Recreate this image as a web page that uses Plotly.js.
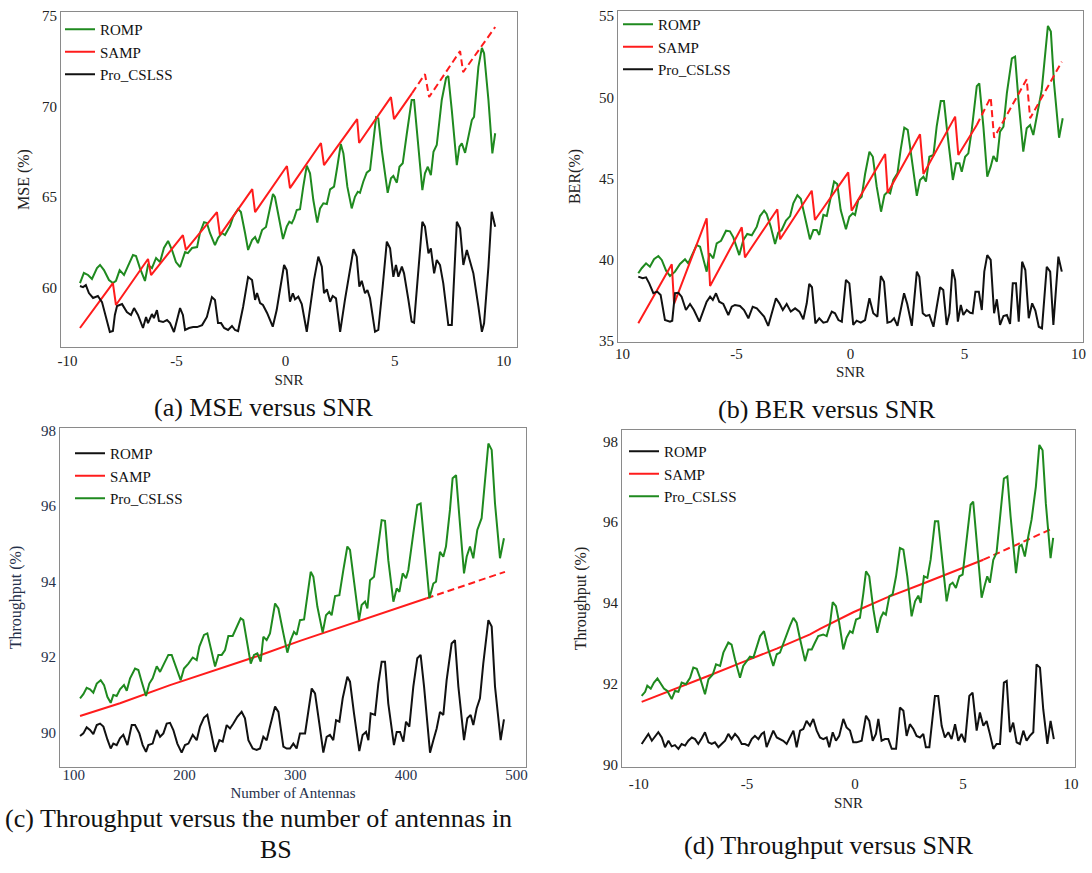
<!DOCTYPE html>
<html><head><meta charset="utf-8">
<script src="https://cdn.plot.ly/plotly-3.0.1.min.js"></script>
<style>html,body{margin:0;padding:0;background:#fff;}#chart{width:1092px;height:873px;}</style>
</head><body><div id="chart"></div>
<script>
// ---------- (a) MSE versus SNR ----------
const aRompX = [-9.43,-9.25,-9.06,-8.88,-8.65,-8.51,-8.33,-8.10,-7.92,-7.78,-7.61,-7.41,-7.23,-7.00,-6.86,-6.68,-6.45,-6.31,-6.13,-5.94,-5.76,-5.58,-5.39,-5.21,-5.03,-4.84,-4.61,-4.48,-4.29,-4.06,-3.93,-3.74,-3.61,-3.47,-3.24,-3.10,-2.92,-2.78,-2.55,-2.41,-2.18,-2.05,-1.86,-1.72,-1.54,-1.40,-1.27,-1.08,-0.90,-0.76,-0.58,-0.49,-0.30,-0.12,0.05,0.17,0.28,0.39,0.51,0.66,0.81,0.97,1.12,1.27,1.45,1.58,1.73,1.89,2.04,2.22,2.37,2.53,2.65,2.83,3.03,3.18,3.31,3.41,3.56,3.72,3.87,4.02,4.15,4.25,4.41,4.68,4.83,4.94,5.10,5.22,5.37,5.56,5.78,5.89,6.09,6.27,6.39,6.52,6.66,6.78,6.93,7.16,7.36,7.46,7.62,7.85,7.97,8.08,8.23,8.38,8.54,8.64,8.84,9.00,9.10,9.30,9.48,9.61];
const aRompY = [60.23,60.79,60.68,60.46,61.06,61.23,60.95,60.40,60.23,60.35,60.95,60.68,61.17,61.78,61.73,61.06,60.35,61.23,61.06,61.62,61.39,62.17,62.56,62.06,61.39,61.12,61.95,61.89,62.17,62.22,63.00,63.60,63.55,63.00,62.33,62.72,63.00,62.89,63.38,63.88,64.32,64.16,63.00,62.06,62.61,62.78,62.44,63.16,63.33,64.16,65.15,64.99,63.72,62.67,63.35,63.62,63.53,63.81,64.27,64.31,65.56,66.72,66.30,64.82,63.57,64.36,64.64,64.60,65.41,65.56,66.66,67.91,67.40,65.56,64.36,65.00,65.28,65.22,65.83,66.33,66.48,67.95,69.39,69.33,67.58,65.22,66.02,66.15,65.78,66.66,66.85,68.51,70.35,70.35,67.58,65.37,66.30,66.66,66.20,67.49,67.86,70.35,71.58,71.67,69.79,66.75,67.77,67.95,67.43,68.41,69.24,69.42,72.18,73.23,72.93,70.35,67.40,68.51];
const aSampX = [-9.43,-7.92,-7.78,-6.31,-6.17,-4.71,-4.57,-3.15,-3.01,-1.53,-1.40,0.06,0.20,1.62,1.76,3.28,3.37,4.83,4.97,5.80];
const aSampY = [57.75,60.23,59.02,61.56,60.67,62.88,62.06,64.15,62.88,65.42,64.15,66.70,65.48,67.97,66.75,69.29,67.97,70.51,69.29,70.73];
const aSampDashX = [5.80,6.39,6.58,8.00,8.14,9.61];
const aSampDashY = [70.73,71.78,70.51,73.05,71.89,74.38];
const aCslssX = [-9.43,-9.29,-9.16,-9.02,-8.83,-8.61,-8.42,-8.24,-8.06,-7.92,-7.83,-7.73,-7.50,-7.28,-7.09,-6.95,-6.77,-6.54,-6.40,-6.31,-6.13,-6.04,-5.90,-5.81,-5.62,-5.44,-5.30,-5.12,-4.98,-4.84,-4.71,-4.61,-4.43,-4.24,-4.06,-3.83,-3.61,-3.38,-3.24,-3.10,-2.96,-2.82,-2.64,-2.46,-2.32,-2.18,-1.95,-1.72,-1.54,-1.40,-1.31,-1.17,-1.04,-0.85,-0.59,-0.41,-0.26,-0.07,0.05,0.20,0.33,0.43,0.58,0.74,0.97,1.12,1.30,1.50,1.66,1.76,1.89,2.04,2.16,2.31,2.50,2.72,2.92,3.11,3.26,3.38,3.49,3.64,3.75,3.87,4.10,4.25,4.45,4.64,4.79,4.94,5.06,5.17,5.33,5.43,5.63,5.78,5.89,6.09,6.27,6.39,6.55,6.66,6.81,6.93,7.08,7.23,7.46,7.62,7.85,8.00,8.15,8.31,8.46,8.61,8.84,9.00,9.10,9.30,9.45,9.61];
const aCslssY = [60.07,60.01,60.12,59.68,59.41,59.52,59.18,58.36,57.53,57.58,58.47,58.96,59.07,58.63,58.47,58.85,58.47,57.75,58.36,58.02,58.52,58.30,58.74,58.14,58.08,58.19,58.02,57.53,58.19,58.85,58.47,57.64,57.75,57.80,57.80,57.91,58.36,59.46,59.30,58.02,58.02,57.75,57.64,57.86,57.64,57.58,58.91,60.57,60.40,59.30,59.68,59.13,59.02,58.58,57.82,58.74,59.85,61.23,60.95,59.20,59.67,59.33,59.48,59.07,57.54,58.93,60.40,61.69,61.14,59.67,59.89,59.20,59.52,59.39,57.54,59.30,60.77,62.10,61.69,60.03,60.36,59.67,59.85,59.39,57.54,57.64,60.03,62.52,62.15,60.58,61.23,60.58,61.14,60.77,59.30,58.10,58.04,61.14,63.62,63.35,61.87,62.15,60.77,61.51,61.23,60.22,57.91,57.91,63.62,63.26,61.23,62.06,61.41,60.77,58.93,57.54,58.01,61.14,64.17,63.35];

// ---------- (b) BER versus SNR ----------
const bRompX = [-9.31,-9.16,-8.97,-8.80,-8.62,-8.43,-8.28,-8.09,-7.92,-7.70,-7.48,-7.26,-7.12,-6.92,-6.75,-6.60,-6.43,-6.31,-6.19,-6.02,-5.87,-5.68,-5.46,-5.29,-5.14,-4.88,-4.70,-4.53,-4.33,-4.11,-3.97,-3.79,-3.68,-3.50,-3.31,-3.17,-3.02,-2.83,-2.65,-2.51,-2.33,-2.18,-2.00,-1.78,-1.63,-1.48,-1.37,-1.19,-1.04,-0.90,-0.72,-0.58,-0.43,-0.20,-0.05,0.10,0.20,0.34,0.49,0.64,0.83,0.98,1.15,1.34,1.49,1.63,1.74,1.88,2.06,2.20,2.36,2.51,2.69,2.91,3.05,3.20,3.31,3.46,3.64,3.78,3.96,4.10,4.25,4.49,4.63,4.78,4.88,5.03,5.17,5.32,5.54,5.65,5.83,6.00,6.15,6.27,6.42,6.56,6.71,6.86,7.08,7.22,7.37,7.58,7.73,7.88,8.02,8.24,8.39,8.66,8.79,8.93,9.15,9.31];
const bRompY = [39.17,39.48,39.78,39.57,40.03,40.23,39.99,39.33,39.00,39.27,39.74,40.03,39.78,40.40,40.91,40.81,39.99,39.27,40.40,40.09,41.01,41.17,41.79,41.75,41.38,40.29,41.22,41.59,41.51,42.04,42.69,43.02,42.82,42.04,40.97,41.67,41.83,42.41,42.69,43.48,43.97,43.76,42.65,41.26,41.83,41.83,41.53,42.76,42.69,43.64,44.81,44.66,43.06,41.88,42.65,42.86,42.76,43.68,43.88,45.28,46.65,46.34,44.50,42.96,43.99,44.19,44.09,44.91,45.32,46.76,48.13,47.99,46.14,43.93,44.91,45.11,44.81,46.34,46.45,48.19,49.77,49.77,47.78,44.91,45.94,45.94,45.42,46.34,46.55,47.99,50.69,50.86,48.19,45.11,45.73,46.39,46.04,47.88,48.19,50.25,52.40,52.50,49.83,46.65,48.09,48.29,47.68,49.22,50.45,54.39,54.04,50.86,47.51,48.71];
const bSampX = [-9.31,-7.84,-7.74,-6.31,-6.16,-4.77,-4.63,-3.21,-3.09,-1.70,-1.56,-0.10,0.05,1.52,1.63,3.05,3.20,4.59,4.73,5.54];
const bSampY = [36.09,39.72,37.28,42.55,38.39,42.00,40.15,43.11,41.26,44.25,42.45,45.38,43.02,46.51,44.13,47.72,45.28,48.81,46.45,48.29];
const bSampDashX = [5.54,6.15,6.30,7.73,7.88,9.27];
const bSampDashY = [48.29,50.00,47.51,51.11,48.71,52.19];
const bCslssX = [-9.31,-9.12,-8.97,-8.83,-8.65,-8.48,-8.33,-8.14,-7.92,-7.82,-7.70,-7.55,-7.41,-7.22,-7.04,-6.87,-6.63,-6.46,-6.31,-6.16,-6.04,-5.90,-5.76,-5.58,-5.36,-5.21,-5.07,-4.85,-4.67,-4.48,-4.29,-4.11,-3.94,-3.79,-3.61,-3.46,-3.27,-3.12,-2.97,-2.80,-2.62,-2.43,-2.24,-2.07,-1.92,-1.81,-1.69,-1.54,-1.37,-1.19,-1.02,-0.82,-0.68,-0.53,-0.38,-0.20,-0.05,0.12,0.27,0.45,0.64,0.83,1.00,1.18,1.33,1.47,1.62,1.77,1.91,2.06,2.20,2.35,2.49,2.69,2.91,3.02,3.17,3.31,3.46,3.64,3.78,3.93,4.07,4.22,4.34,4.47,4.59,4.71,4.84,4.95,5.10,5.25,5.36,5.48,5.63,5.76,5.87,6.00,6.15,6.30,6.42,6.56,6.71,6.86,7.00,7.12,7.26,7.38,7.53,7.67,7.82,7.97,8.11,8.26,8.40,8.61,8.76,8.90,9.12,9.27];
const bCslssY = [38.96,38.86,38.92,38.55,37.94,38.04,37.83,36.29,36.19,36.25,37.94,37.97,37.73,36.91,37.28,36.91,36.19,36.81,37.42,37.73,37.53,37.94,37.42,37.28,36.60,37.11,37.22,37.16,36.91,36.40,37.11,37.01,36.71,36.50,35.93,36.71,37.63,37.32,36.91,37.28,36.81,37.01,36.81,36.34,37.32,38.51,38.31,36.09,36.40,36.13,36.19,36.81,36.71,36.29,36.19,38.76,38.55,35.99,36.25,36.13,36.29,37.63,36.71,36.50,39.00,38.65,36.13,36.19,36.40,35.93,36.91,37.94,37.28,35.93,39.27,38.96,36.71,36.54,36.60,35.88,37.08,38.31,38.14,35.99,36.71,39.41,38.76,36.19,37.22,36.60,36.91,36.74,36.71,38.04,38.04,36.91,39.27,40.29,39.99,36.71,37.57,35.99,36.54,36.60,36.05,38.55,38.55,36.19,39.88,39.37,36.40,37.32,36.87,35.88,35.78,39.57,39.27,35.99,40.19,39.27];

// ---------- (c) Throughput versus number of antennas ----------
const cRompX = [105.6,108.6,111.6,114.6,117.6,120.7,123.7,126.7,130.3,133.3,135.7,138.7,141.7,144.7,148.4,152.3,155.3,159.2,162.2,165.2,167.3,171.2,174.9,177.9,180.9,183.9,186.9,189.9,193.5,197.4,200.4,203.5,207.4,211.0,214.0,217.6,220.6,223.6,227.6,231.5,234.5,238.1,241.1,244.1,247.7,251.6,254.6,257.7,261.6,265.2,268.2,271.2,274.2,277.2,281.8,284.8,289.3,292.3,295.3,298.3,301.3,304.3,308.9,314.9,317.9,321.8,325.4,328.4,331.4,334.4,336.9,339.9,342.9,347.1,349.5,353.1,357.9,360.9,364.0,366.1,368.2,372.1,375.1,378.1,381.1,384.1,389.2,391.7,394.7,397.7,400.1,403.1,406.7,410.3,413.3,416.4,421.8,424.8,427.8,430.8,433.8,436.8,441.3,444.3,447.4,452.5,455.5,458.5,460.9,463.9,466.9,469.9,474.5,477.5,480.5,485.6,488.6];
const cRompY = [89.90,89.97,90.13,90.06,89.95,90.19,90.23,90.15,89.81,89.57,89.70,89.66,89.84,89.93,89.66,90.19,90.19,89.97,89.66,89.48,89.66,89.70,90.06,89.88,89.97,90.23,90.25,90.06,89.70,89.46,89.66,89.70,89.93,89.79,90.15,90.39,90.46,90.06,89.48,89.79,89.75,90.19,90.10,90.23,90.41,90.54,90.37,89.79,89.57,89.53,89.57,89.88,89.79,90.15,90.68,90.54,89.62,89.57,89.57,89.70,89.57,89.97,89.97,91.16,91.03,90.23,89.46,89.88,89.93,89.79,90.32,90.28,90.90,91.47,91.34,90.50,89.50,89.93,90.01,89.79,90.50,90.46,91.29,91.87,91.87,90.76,89.66,90.01,90.01,89.75,90.28,90.15,91.21,91.96,92.05,91.21,89.46,89.79,90.10,90.54,90.46,91.38,92.35,92.44,91.21,89.79,90.37,90.46,90.19,90.63,90.90,91.82,92.97,92.80,91.21,89.79,90.34];
const cSampX = [105.6,141.7,186.9,227.6,268.2,304.3,349.5,394.7,418.8];
const cSampY = [90.43,90.77,91.25,91.65,92.04,92.42,92.87,93.32,93.55];
const cSampDashX = [418.8,453.4,489.5];
const cSampDashY = [93.55,93.90,94.25];
const cCslssX = [105.6,108.6,111.6,114.6,117.6,120.7,124.3,127.3,130.3,133.3,135.7,138.7,141.7,145.3,147.8,150.8,155.3,158.3,161.3,165.2,168.2,171.2,174.9,177.9,181.5,185.4,188.4,191.4,196.5,199.5,203.5,207.4,211.0,213.4,217.6,220.6,223.6,227.6,230.6,233.6,236.6,239.6,243.5,247.1,250.7,253.1,256.2,259.8,262.8,265.8,268.8,271.2,274.2,277.2,281.8,284.8,289.3,292.9,295.9,298.9,301.3,304.3,308.0,310.4,314.0,316.4,320.0,324.8,327.8,330.8,332.9,336.0,339.9,343.5,347.1,349.5,353.1,357.6,360.0,363.1,365.2,367.6,371.2,374.2,378.1,381.1,384.1,388.7,391.7,394.1,397.1,400.1,402.2,406.7,410.3,413.3,416.4,421.2,424.8,427.2,430.8,433.8,436.2,439.8,442.2,445.3,448.3,452.5,454.9,457.9,460.9,464.5,468.4,471.5,474.5,477.5,480.5,485.0,488.6];
const cCslssY = [90.90,91.01,91.18,91.14,91.05,91.29,91.38,91.25,90.94,90.78,90.99,90.96,91.14,91.25,91.10,91.43,91.69,91.65,91.34,90.96,91.29,91.43,91.75,91.60,91.82,92.05,92.05,91.82,91.38,91.69,91.82,91.98,91.91,92.27,92.58,92.62,92.27,91.74,92.05,92.05,92.18,92.55,92.55,92.80,93.02,92.97,92.44,91.82,92.05,92.09,91.87,92.53,92.44,92.62,93.41,93.28,92.62,92.11,92.44,92.66,92.58,92.97,92.99,93.50,94.25,94.12,93.33,92.64,93.10,93.19,93.10,93.61,93.63,94.30,94.92,94.83,93.94,92.97,93.37,93.46,93.28,94.03,94.12,94.74,95.62,95.60,94.56,93.46,93.81,93.72,94.21,94.08,94.30,95.27,96.02,96.06,95.00,93.55,93.94,93.99,94.78,94.65,94.92,95.89,96.73,96.81,95.71,94.21,94.65,94.92,94.61,95.36,95.67,96.68,97.65,97.48,96.06,94.61,95.14];

// ---------- (d) Throughput versus SNR ----------
const dRompX = [-9.87,-9.71,-9.56,-9.40,-9.25,-9.10,-8.94,-8.79,-8.63,-8.48,-8.33,-8.17,-8.02,-7.86,-7.71,-7.55,-7.40,-7.25,-7.09,-6.94,-6.78,-6.63,-6.48,-6.32,-6.17,-6.01,-5.86,-5.71,-5.55,-5.40,-5.24,-5.09,-4.93,-4.78,-4.63,-4.47,-4.32,-4.21,-4.09,-3.93,-3.78,-3.62,-3.47,-3.32,-3.16,-3.01,-2.85,-2.70,-2.54,-2.39,-2.24,-2.08,-1.93,-1.77,-1.62,-1.47,-1.31,-1.19,-1.03,-0.88,-0.73,-0.54,-0.39,-0.23,-0.08,0.08,0.31,0.51,0.66,0.82,0.97,1.08,1.23,1.39,1.54,1.70,1.90,2.08,2.24,2.39,2.54,2.70,2.85,3.01,3.16,3.28,3.44,3.70,3.85,4.01,4.16,4.32,4.47,4.63,4.78,4.93,5.09,5.29,5.44,5.63,5.78,5.94,6.09,6.24,6.40,6.55,6.71,6.89,7.02,7.17,7.32,7.48,7.63,7.79,7.94,8.09,8.25,8.40,8.56,8.71,8.90,9.05,9.20];
const dRompY = [90.51,90.63,90.76,90.59,90.71,90.80,90.67,90.43,90.59,90.45,90.48,90.39,90.51,90.47,90.59,90.67,90.63,90.51,90.65,90.80,90.55,90.51,90.55,90.43,90.51,90.59,90.76,90.63,90.76,90.67,90.51,90.51,90.47,90.63,90.71,90.63,90.76,90.80,90.43,90.67,90.84,90.67,90.63,90.59,90.51,90.67,90.84,90.43,90.84,90.88,91.08,90.96,91.13,90.84,90.67,90.63,90.67,90.43,90.80,90.59,90.71,91.13,90.92,90.84,90.55,90.55,90.59,91.21,91.08,90.59,90.76,91.13,90.59,90.63,90.63,90.39,90.39,91.41,91.33,90.71,91.00,90.88,90.71,90.67,90.76,90.43,90.43,91.70,91.70,90.96,90.67,90.80,90.63,91.00,90.59,90.76,90.55,91.70,91.78,90.84,91.29,90.96,91.08,90.76,90.39,90.51,90.51,92.03,92.07,90.80,91.04,90.55,90.51,90.84,90.59,90.71,90.80,92.48,92.40,91.37,90.51,91.08,90.63];
const dSampX = [-9.87,-8.25,-6.71,-5.17,-3.62,-2.08,-1.62,-0.08,1.46,3.01,4.55,5.94];
const dSampY = [91.55,91.88,92.21,92.54,92.87,93.22,93.36,93.77,94.13,94.45,94.78,95.07];
const dSampDashX = [5.94,7.63,9.17];
const dSampDashY = [95.07,95.47,95.85];
const dCslssX = [-9.87,-9.71,-9.61,-9.45,-9.30,-9.14,-9.02,-8.84,-8.68,-8.48,-8.33,-8.17,-8.02,-7.82,-7.63,-7.48,-7.32,-7.17,-6.94,-6.78,-6.58,-6.43,-6.24,-6.09,-5.86,-5.71,-5.55,-5.32,-5.17,-5.01,-4.86,-4.70,-4.55,-4.39,-4.21,-4.01,-3.78,-3.62,-3.47,-3.32,-3.16,-3.01,-2.85,-2.70,-2.54,-2.31,-2.16,-2.00,-1.85,-1.70,-1.47,-1.31,-1.16,-1.03,-0.88,-0.73,-0.54,-0.39,-0.23,-0.11,0.05,0.23,0.39,0.51,0.66,0.85,1.03,1.19,1.31,1.43,1.59,1.74,1.90,2.08,2.24,2.42,2.62,2.78,2.93,3.04,3.19,3.35,3.50,3.70,3.85,4.01,4.24,4.39,4.52,4.67,4.83,4.98,5.17,5.35,5.47,5.63,5.86,6.01,6.12,6.24,6.40,6.55,6.71,6.89,7.05,7.20,7.45,7.60,7.71,7.86,8.02,8.17,8.37,8.53,8.68,8.83,9.05,9.17];
const dCslssY = [91.70,91.80,91.95,91.88,92.03,92.13,92.03,91.88,91.82,91.62,91.82,91.80,92.03,91.99,92.15,92.40,92.37,92.15,91.74,92.11,92.23,92.48,92.44,92.77,93.02,92.97,92.60,92.15,92.44,92.56,92.67,92.65,92.93,93.18,93.30,92.85,92.44,92.73,92.77,93.00,93.22,93.43,93.63,93.51,93.10,92.56,92.85,92.85,93.02,93.18,93.22,93.18,93.47,94.02,93.92,93.51,92.85,93.14,93.30,93.26,93.59,93.63,94.25,94.78,94.66,93.84,93.26,93.63,93.76,93.71,94.17,94.21,94.66,95.36,95.32,94.66,93.67,94.04,94.18,94.00,94.66,94.62,95.07,96.02,96.02,95.24,94.04,94.45,94.50,94.37,94.66,94.70,95.65,96.43,96.51,95.48,94.13,94.45,94.66,94.50,95.07,95.24,96.06,97.08,97.13,96.14,94.74,95.40,95.44,95.15,95.65,96.06,96.88,97.91,97.78,96.47,95.11,95.61];

// ---------- tick labels / names / captions ----------
const snrTickVals = [-10,-5,0,5,10];
const snrTickText = ['-10','-5','0','5','10'];
const berSnrTickText = ['10','-5','0','5','10'];
const antTickVals = [100,200,300,400,500];
const antTickText = ['100','200','300','400','500'];
const seriesNames = ['ROMP','SAMP','Pro_CSLSS'];
const captions = ['(a) MSE versus SNR','(b) BER versus SNR','(c) Throughput versus the number of antennas in','BS','(d) Throughput versus SNR'];

const GREEN = '#1f8a1f', RED = '#ff1c1c', BLACK = '#111111';
const FONT = 'Liberation Serif, Times New Roman, serif';

function tr(x, y, color, name, k, legend, dashed, show) {
  return {type:'scatter', mode:'lines', x:x, y:y, name:name,
    xaxis: k===1?'x':'x'+k, yaxis: k===1?'y':'y'+k, legend: legend,
    showlegend: show, hoverinfo:'skip',
    line:{color:color, width:2, dash: dashed ? '7px,4px' : 'solid'}};
}

const data = [
  tr(aRompX, aRompY, GREEN, seriesNames[0], 1, 'legend', false, true),
  tr(aSampX, aSampY, RED, seriesNames[1], 1, 'legend', false, true),
  tr(aSampDashX, aSampDashY, RED, seriesNames[1], 1, 'legend', true, false),
  tr(aCslssX, aCslssY, BLACK, seriesNames[2], 1, 'legend', false, true),

  tr(bRompX, bRompY, GREEN, seriesNames[0], 2, 'legend2', false, true),
  tr(bSampX, bSampY, RED, seriesNames[1], 2, 'legend2', false, true),
  tr(bSampDashX, bSampDashY, RED, seriesNames[1], 2, 'legend2', true, false),
  tr(bCslssX, bCslssY, BLACK, seriesNames[2], 2, 'legend2', false, true),

  tr(cRompX, cRompY, BLACK, seriesNames[0], 3, 'legend3', false, true),
  tr(cSampX, cSampY, RED, seriesNames[1], 3, 'legend3', false, true),
  tr(cSampDashX, cSampDashY, RED, seriesNames[1], 3, 'legend3', true, false),
  tr(cCslssX, cCslssY, GREEN, seriesNames[2], 3, 'legend3', false, true),

  tr(dRompX, dRompY, BLACK, seriesNames[0], 4, 'legend4', false, true),
  tr(dSampX, dSampY, RED, seriesNames[1], 4, 'legend4', false, true),
  tr(dSampDashX, dSampDashY, RED, seriesNames[1], 4, 'legend4', true, false),
  tr(dCslssX, dCslssY, GREEN, seriesNames[2], 4, 'legend4', false, true)
];

const W = 1092, H = 873;
function px(x){ return x / W; }
function py(y){ return 1 - y / H; }

function ax(d0, d1, range, extra, color) {
  const c = color || '#222';
  return Object.assign({
    domain:[d0, d1], range: range, autorange:false, fixedrange:true,
    showgrid:false, zeroline:false, showline:true, mirror:true,
    linecolor:'#8a8a8a', linewidth:1, ticks:'',
    tickfont:{family:FONT, size:15, color:c}
  }, extra);
}
function ttl(text, standoff, size, color) {
  return {text:text, standoff:standoff, font:{family:FONT, size:size, color:color || '#222'}};
}

function leg(x, y) {
  return {x:px(x), y:py(y), xanchor:'left', yanchor:'top', bgcolor:'rgba(0,0,0,0)',
    borderwidth:0, font:{family:FONT, size:15, color:'#111'}, itemwidth:30,
    tracegroupgap:0, traceorder:'normal'};
}

const NAVY = '#25304a';
const layout = {
  width:W, height:H, margin:{l:0, r:0, t:0, b:0},
  paper_bgcolor:'#fff', plot_bgcolor:'#fff', font:{family:FONT},
  xaxis: ax(px(61), px(517), [-10.30, 10.61], {anchor:'y', tickmode:'array', tickvals:snrTickVals, ticktext:snrTickText, title:ttl('SNR', 6, 15)}),
  yaxis: ax(py(347), py(12), [56.70, 75.21], {anchor:'x', dtick:5, tick0:0, title:ttl('MSE (%)', 8, 16)}),
  xaxis2: ax(px(618), px(1083), [-10.2, 10.2], {anchor:'y2', tickmode:'array', tickvals:snrTickVals, ticktext:berSnrTickText, ticklabelstandoff:-2, title:ttl('SNR', 5, 15)}),
  yaxis2: ax(py(342), py(11), [34.94, 55.31], {anchor:'x2', dtick:5, tick0:0, title:ttl('BER(%)', 14, 16)}),
  xaxis3: ax(px(60), px(526), [87.5, 508.5], {anchor:'y3', tickmode:'array', tickvals:antTickVals, ticktext:antTickText, ticklabelstandoff:-6, title:ttl('Number of Antennas', 5, 15, NAVY)}, NAVY),
  yaxis3: ax(py(767), py(428), [89.08, 98.06], {anchor:'x3', dtick:2, tick0:0, title:ttl('Throughput (%)', 15, 16, NAVY)}, NAVY),
  xaxis4: ax(px(622), px(1075), [-10.78, 10.18], {anchor:'y4', tickmode:'array', tickvals:snrTickVals, ticktext:snrTickText, ticklabelstandoff:3, title:ttl('SNR', 6, 15)}),
  yaxis4: ax(py(767), py(430), [89.94, 98.28], {anchor:'x4', dtick:2, tick0:0, title:ttl('Throughput (%)', 12, 16)}),
  legend: leg(60, 13),
  legend2: leg(618, 8),
  legend3: leg(70, 437),
  legend4: leg(624, 435),
  annotations: [
    {text:captions[0], x:px(263), y:py(407)},
    {text:captions[1], x:px(827), y:py(409)},
    {text:captions[2], x:px(258), y:py(818)},
    {text:captions[3], x:px(276), y:py(849)},
    {text:captions[4], x:px(829), y:py(845)}
  ].map(a => Object.assign({xref:'paper', yref:'paper', showarrow:false, xanchor:'center', yanchor:'middle', align:'center', font:{family:FONT, size:26, color:'#111'}}, a))
};

Plotly.newPlot('chart', data, layout, {displayModeBar:false, staticPlot:true});
</script>
</body></html>
